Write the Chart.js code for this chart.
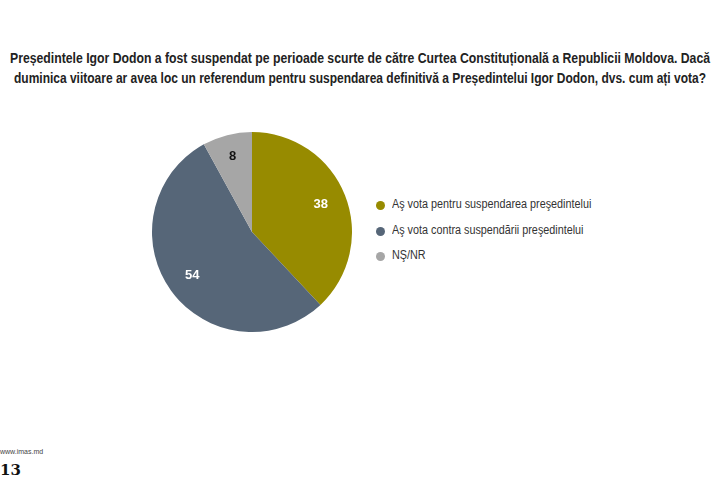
<!DOCTYPE html>
<html>
<head>
<meta charset="utf-8">
<script src="https://cdn.jsdelivr.net/npm/chart.js@4"></script>
<style>
  body { margin: 0; background: #fff; width: 720px; height: 490px; position: relative; overflow: hidden; font-family: "Liberation Sans", Arial, sans-serif; }
  .tl { position: absolute; left: 360px; white-space: nowrap; font-weight: bold; font-size: 14px; line-height: 20px; color: #222; transform-origin: center; }
  #t1 { top: 48px; }
  #t2 { top: 68px; }
  #pieWrap { position: absolute; left: 152px; top: 132px; width: 200px; height: 200px; }
  #legend { position: absolute; left: 375px; top: 197px; font-size: 12px; color: #333; }
  #legend div { height: 25.5px; display: flex; align-items: flex-start; white-space: nowrap; }
  #legend span.txt { display: inline-block; transform-origin: left center; }
  #legend span.dot { display: inline-block; width: 9px; height: 9px; border-radius: 50%; margin: 4px 7px 0 1px; }
  #site { position: absolute; left: 0; top: 448px; font-size: 7px; color: #444; }
  #page { position: absolute; left: 0; top: 461px; font-size: 15px; font-weight: bold; font-family: "DejaVu Serif", serif; color: #111; }
</style>
</head>
<body>
<div class="tl" id="t1">Președintele Igor Dodon a fost suspendat pe perioade scurte de către Curtea Constituțională a Republicii Moldova. Dacă</div>
<div class="tl" id="t2">duminica viitoare ar avea loc un referendum pentru suspendarea definitivă a Președintelui Igor Dodon, dvs. cum ați vota?</div>
<div id="pieWrap"><canvas id="pie"></canvas></div>
<div id="legend"></div>
<div id="site">www.imas.md</div>
<div id="page">13</div>
<script>
// Answer categories and shares (%)
const labels = ['Aş vota pentru suspendarea preşedintelui', 'Aş vota contra suspendării preşedintelui', 'NŞ/NR'];
const values = [38, 54, 8];
const colors = ['#978b00', '#566678', '#a6a6a6'];
const labelColors = ['#ffffff', '#ffffff', '#111111'];

// squeeze wide title lines to the width they have in the picture (Calibri is narrower)
function fit(el, w) {
  const cur = el.getBoundingClientRect().width;
  el.style.transform = 'translateX(-50%) scaleX(' + (w / cur) + ')';
}
fit(document.getElementById('t1'), 700);
fit(document.getElementById('t2'), 692);

// Legend on the right, built from the same arrays
const legend = document.getElementById('legend');
labels.forEach(function (text, i) {
  const row = document.createElement('div');
  row.innerHTML = '<span class="dot" style="background:' + colors[i] + '"></span><span class="txt">' + text + '</span>';
  legend.appendChild(row);
  row.querySelector('.txt').style.transform = 'scaleX(0.9)';
});

// Value labels inside slices
const sliceLabels = {
  id: 'sliceLabels',
  afterDatasetsDraw(chart) {
    const ctx = chart.ctx;
    const meta = chart.getDatasetMeta(0);
    ctx.save();
    ctx.font = 'bold 13px "Liberation Sans", Arial, sans-serif';
    ctx.textAlign = 'center';
    ctx.textBaseline = 'middle';
    meta.data.forEach(function (arc, i) {
      const mid = (arc.startAngle + arc.endAngle) / 2;
      const r = arc.outerRadius * (i === 2 ? 0.78 : 0.74);
      ctx.fillStyle = labelColors[i];
      ctx.fillText(values[i], arc.x + Math.cos(mid) * r, arc.y + Math.sin(mid) * r);
    });
    ctx.restore();
  }
};

new Chart(document.getElementById('pie'), {
  type: 'pie',
  data: {
    labels: labels,
    datasets: [{ data: values, backgroundColor: colors, borderWidth: 0 }]
  },
  options: {
    responsive: true,
    maintainAspectRatio: false,
    animation: false,
    layout: { padding: 0 },
    plugins: { legend: { display: false }, tooltip: { enabled: false } }
  },
  plugins: [sliceLabels]
});
</script>
</body>
</html>
